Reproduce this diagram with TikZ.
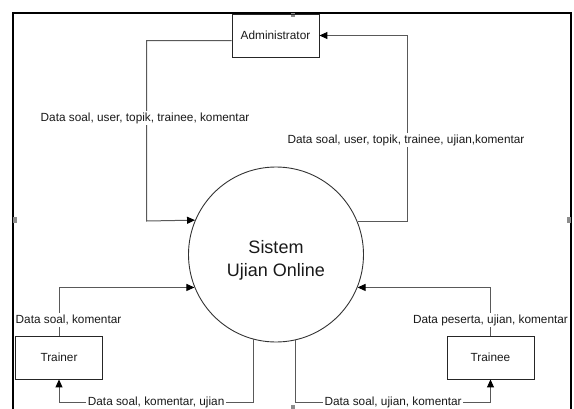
\documentclass[tikz,border=0pt]{standalone}
\usepackage{fontspec}
\setmainfont{Liberation Sans}
\usetikzlibrary{arrows.meta}
\begin{document}
\begin{tikzpicture}[x=1pt,y=-1pt,
  ent/.style={draw=black!85, line width=0.9pt, minimum width=87pt, minimum height=43pt, inner sep=0pt, text=black!90, font=\fontsize{11.8}{14}\selectfont},
  flow/.style={draw=black!65, line width=1pt},
  arr/.style={flow, -{Triangle[length=8pt,width=7pt,color=black]}},
  lbl/.style={fill=white, inner sep=1.5pt, text=black!90, font=\fontsize{11.8}{14}\selectfont},
  handle/.style={fill=black!45, draw=none, minimum width=4pt, minimum height=4pt, inner sep=0pt},
  frameline/.style={draw=black, line width=2pt}]
\useasboundingbox (0,0) rectangle (574,408);
% frame
\draw[frameline] (13,409) -- (13,13) -- (571,13) -- (571,409);
\node[handle] (h1) at (293,15) {};
\node[handle, minimum height=6pt] (h2) at (15,220) {};
\node[handle, minimum height=6pt] (h3) at (569,220) {};
\node[handle] (h4) at (293,407) {};
% entities
\node[ent] (adm) at (275.5,35.5) {Administrator};
\node[ent] (trr) at (59,357.5) {Trainer};
\node[ent] (tre) at (490.5,357.5) {Trainee};
\node[circle, draw=black!80, line width=0.9pt, minimum size=175pt, inner sep=0pt] (sys) at (276,254.5) {};
\node[align=center, text=black!90, font=\fontsize{18}{23}\selectfont] (syst) at (276,260.5) {Sistem\\Ujian Online};
% flows
\coordinate (bl) at (59,402);
\coordinate (br) at (490.5,402);
\draw[arr] ([yshift=-5pt]adm.west) -| (146.5,221) -- (sys.157.5);
\draw[arr] (sys.22.5) -| (407,35.5) -- (adm.east);
\draw[arr] (trr.north) |- (sys.202.5);
\draw[arr] (tre.north) |- (sys.-22.5);
\draw[arr] (sys.255) |- node[lbl, pos=0.75] (l5) {Data soal, komentar, ujian} (bl) -- (trr.south);
\draw[arr] (sys.283.5) |- node[lbl, pos=0.75] (l6) {Data soal, ujian, komentar} (br) -- (tre.south);
% labels on vertical flows
\node[lbl] (l1) at (145,118) {Data soal, user, topik, trainee, komentar};
\node[lbl] (l2) at (406,140) {Data soal, user, topik, trainee, ujian,komentar};
\node[lbl] (l3) at (68.5,320) {Data soal, komentar};
\node[lbl] (l4) at (490.5,320) {Data peserta, ujian, komentar};
\end{tikzpicture}
\end{document}
